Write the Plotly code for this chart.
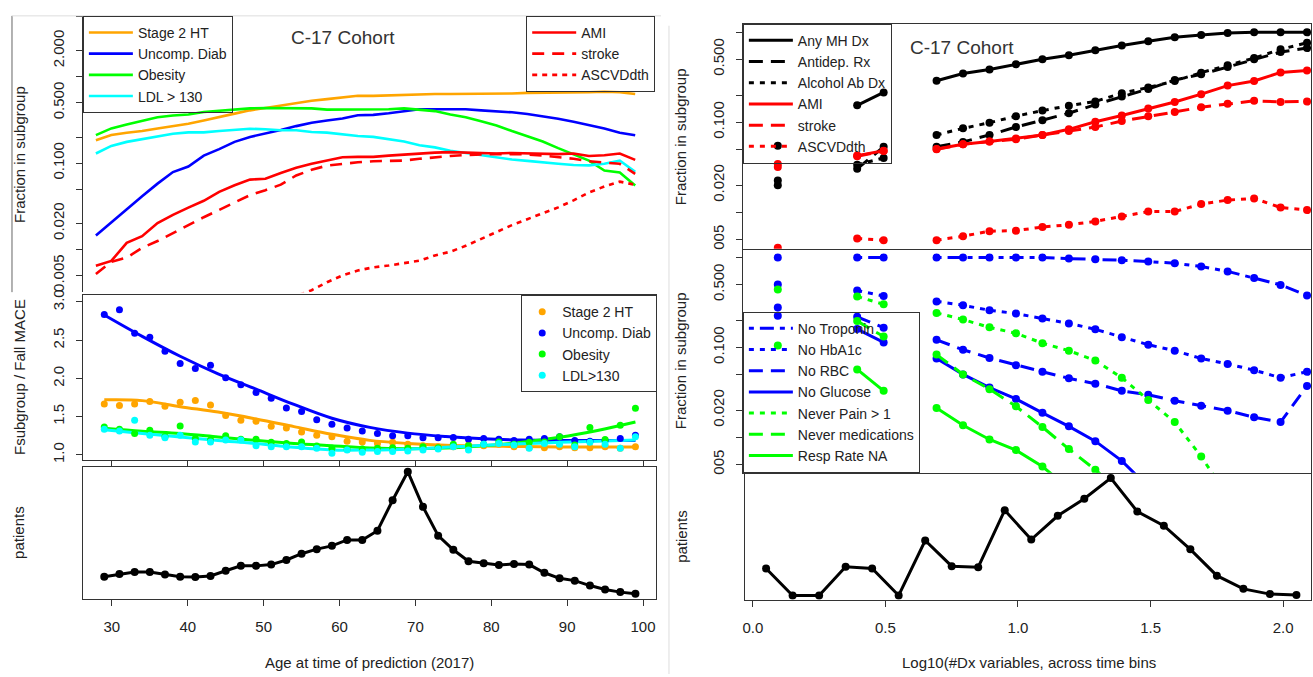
import plotly.graph_objects as go

W, H = 1313, 677

# ---------------- data: left half (age) ----------------
AGES = [29, 31, 33, 35, 37, 39, 41, 43, 45, 47, 49, 51, 53, 55, 57, 59, 61, 63,
        65, 67, 69, 71, 73, 75, 77, 79, 81, 83, 85, 87, 89, 91, 93, 95, 97, 99]

# fraction in subgroup (top-left panel)
HT2 = [0.184, 0.211, 0.225, 0.235, 0.252, 0.268, 0.286, 0.311, 0.343, 0.374, 0.408, 0.435,
       0.466, 0.496, 0.527, 0.551, 0.581, 0.601, 0.600, 0.610, 0.620, 0.620, 0.630, 0.630,
       0.630, 0.640, 0.640, 0.640, 0.650, 0.650, 0.650, 0.660, 0.660, 0.670, 0.660, 0.630]
DIAB = [0.0145, 0.0206, 0.0294, 0.0414, 0.0578, 0.0787, 0.0912, 0.122, 0.145, 0.176, 0.201, 0.219,
        0.241, 0.268, 0.293, 0.311, 0.328, 0.358, 0.362, 0.377, 0.402, 0.420, 0.420, 0.420,
        0.420, 0.408, 0.400, 0.387, 0.371, 0.349, 0.326, 0.301, 0.275, 0.252, 0.225, 0.210]
OBES = [0.211, 0.252, 0.280, 0.311, 0.340, 0.355, 0.365, 0.390, 0.405, 0.420, 0.430, 0.435,
        0.435, 0.430, 0.430, 0.416, 0.416, 0.416, 0.420, 0.420, 0.430, 0.416, 0.400, 0.365,
        0.340, 0.305, 0.273, 0.235, 0.206, 0.178, 0.149, 0.127, 0.107, 0.082, 0.078, 0.055]
LDL = [0.129, 0.158, 0.176, 0.189, 0.201, 0.219, 0.227, 0.227, 0.235, 0.241, 0.250, 0.246,
       0.240, 0.240, 0.229, 0.225, 0.215, 0.206, 0.201, 0.189, 0.178, 0.161, 0.152, 0.139,
       0.131, 0.122, 0.115, 0.110, 0.106, 0.101, 0.098, 0.095, 0.094, 0.098, 0.107, 0.079]
AMI = [0.00646, 0.00736, 0.0119, 0.0142, 0.0202, 0.0251, 0.0305, 0.0366, 0.0464, 0.0553, 0.0643, 0.0659,
       0.0766, 0.088, 0.098, 0.107, 0.117, 0.118, 0.118, 0.122, 0.126, 0.129, 0.132, 0.134,
       0.132, 0.129, 0.129, 0.131, 0.129, 0.129, 0.127, 0.129, 0.121, 0.123, 0.129, 0.109]
STROKE = [0.00518, 0.00718, 0.00803, 0.01045, 0.0125, 0.0155, 0.0188, 0.0236, 0.0287, 0.0348, 0.0425, 0.0485,
          0.0562, 0.0719, 0.0836, 0.0935, 0.098, 0.102, 0.105, 0.105, 0.107, 0.112, 0.117, 0.121,
          0.124, 0.126, 0.127, 0.127, 0.126, 0.122, 0.117, 0.112, 0.105, 0.101, 0.098, 0.075]
ASCVD = [None, None, None, None, None, None, None, None, None, None, None, None,
         0.0025, 0.0029, 0.00337, 0.00416, 0.0050, 0.0057, 0.0062, 0.0065, 0.0070, 0.0074, 0.0085, 0.0094,
         0.0110, 0.0133, 0.0159, 0.0191, 0.0224, 0.0262, 0.0307, 0.0370, 0.0456, 0.0535, 0.0610, 0.0560]

# ratio Fsubgroup / Fall MACE (middle-left panel)
HT2_R = [1.667, 1.645, 1.667, 1.697, 1.636, 1.688, 1.710, 1.654, 1.516, 1.452, 1.439, 1.374,
         1.352, 1.300, 1.258, 1.236, 1.180, 1.170, 1.150, 1.164, 1.138, 1.120, 1.107, 1.107,
         1.129, 1.120, 1.138, 1.107, 1.094, 1.094, 1.107, 1.094, 1.094, 1.107, 1.086, 1.107]
DIAB_R = [2.836, 2.900, 2.590, 2.540, 2.355, 2.196, 2.130, 2.174, 2.010, 1.916, 1.817, 1.740,
          1.615, 1.568, 1.461, 1.400, 1.353, 1.314, 1.280, 1.250, 1.250, 1.223, 1.223, 1.228,
          1.206, 1.215, 1.206, 1.190, 1.206, 1.215, 1.236, 1.190, 1.180, 1.190, 1.215, 1.258]
OBES_R = [1.365, 1.335, 1.280, 1.323, 1.236, 1.378, 1.215, 1.194, 1.250, 1.206, 1.206, 1.164,
          1.150, 1.170, 1.116, 1.086, 1.073, 1.077, 1.086, 1.094, 1.086, 1.107, 1.094, 1.138,
          1.120, 1.138, 1.170, 1.138, 1.164, 1.170, 1.236, 1.129, 1.357, 1.200, 1.387, 1.610]
LDL_R = [1.335, 1.314, 1.452, 1.258, 1.224, 1.258, 1.170, 1.170, 1.194, 1.194, 1.120, 1.107,
         1.107, 1.107, 1.086, 1.022, 1.065, 1.035, 1.043, 1.043, 1.052, 1.065, 1.077, 1.107,
         1.065, 1.138, 1.150, 1.129, 1.086, 1.150, 1.138, 1.107, 1.164, 1.138, 1.086, 1.236]

# smoothed fits
FIT_AGES = [29, 34, 39, 44, 49, 54, 59, 64, 69, 74, 79, 84, 89, 94, 99]
HT2_FIT = [1.72, 1.71, 1.63, 1.56, 1.47, 1.37, 1.27, 1.19, 1.15, 1.125, 1.115, 1.11, 1.105, 1.105, 1.105]
DIAB_FIT = [2.83, 2.55, 2.29, 2.06, 1.86, 1.66, 1.48, 1.36, 1.285, 1.24, 1.21, 1.195, 1.19, 1.19, 1.19]
OBES_FIT = [1.35, 1.31, 1.28, 1.235, 1.19, 1.15, 1.12, 1.09, 1.08, 1.09, 1.12, 1.165, 1.23, 1.32, 1.43]
LDL_FIT = [1.33, 1.28, 1.235, 1.19, 1.15, 1.10, 1.065, 1.065, 1.075, 1.10, 1.125, 1.145, 1.165, 1.18, 1.195]

# patients by age (arbitrary count units)
PAT_AGE = [340, 380, 410, 410, 375, 340, 335, 350, 430, 505, 505, 525, 595, 690, 760, 810, 900, 900,
           1040, 1505, 1940, 1405, 965, 750, 575, 545, 520, 535, 525, 400, 315, 280, 205, 145, 105, 80]

# ---------------- data: right half (log10 #Dx) ----------------
DX = [0.05, 0.15, 0.25, 0.35, 0.45, 0.55, 0.65, 0.75, 0.85, 0.95, 1.05,
      1.15, 1.25, 1.35, 1.45, 1.55, 1.65, 1.75, 1.85, 1.95, 2.05]

ANY_MH = [0.0547, None, None, 0.154, 0.214, None, 0.289, 0.348, 0.385, 0.440, 0.500,
          0.553, 0.628, 0.712, 0.793, 0.877, 0.931, 0.980, 0.995, 0.995, 0.995]
ANTIDEP = [0.0200, None, None, 0.0304, 0.0534, None, 0.0534, 0.0605, 0.0723, 0.0885, 0.1054,
           0.126, 0.157, 0.193, 0.234, 0.294, 0.340, 0.410, 0.500, 0.601, 0.665]
ALCOHOL = [0.0226, None, None, 0.0337, 0.0401, None, 0.0723, 0.0855, 0.0988, 0.1167, 0.1346,
           0.1528, 0.170, 0.210, 0.243, 0.287, 0.355, 0.430, 0.515, 0.644, 0.762]
AMI_DX = [0.0345, None, None, 0.0426, 0.0483, None, 0.0504, 0.0571, 0.0612, 0.0661, 0.0723,
          0.0834, 0.1014, 0.1189, 0.1416, 0.1678, 0.205, 0.255, 0.287, 0.357, 0.376]
STROKE_DX = [0.0318, None, None, 0.0420, 0.0480, None, 0.0500, 0.0570, 0.0610, 0.0649, 0.0723,
             0.0800, 0.0885, 0.1030, 0.1167, 0.1300, 0.1466, 0.160, 0.173, 0.168, 0.170]
ASCVD_DX = [0.00405, None, None, 0.00512, 0.00491, None, 0.00491, 0.00543, 0.00617, 0.00626, 0.00687,
            0.00728, 0.00793, 0.0090, 0.0102, 0.0102, 0.01236, 0.01367, 0.01428, 0.0113, 0.0106]

NO_TROP = [0.997, None, None, 0.997, 0.997, None, 0.997, 0.997, 0.997, 0.997, 0.997,
           0.973, 0.955, 0.931, 0.901, 0.863, 0.794, 0.700, 0.590, 0.495, 0.379]
NO_HBA1C = [0.500, None, None, 0.430, 0.372, None, 0.325, 0.294, 0.259, 0.238, 0.2095,
            0.185, 0.159, 0.130, 0.107, 0.092, 0.0752, 0.0655, 0.0558, 0.046, 0.0536]
NO_RBC = [0.277, None, None, 0.219, 0.1656, None, 0.1213, 0.0942, 0.0762, 0.0634, 0.0536,
          0.0453, 0.0395, 0.0329, 0.0297, 0.0255, 0.0225, 0.0198, 0.0167, 0.01475, 0.0373]
NO_GLUC = [0.2245, None, None, 0.160, 0.1135, None, 0.0752, 0.0501, 0.0357, 0.0267, 0.0187,
           0.01324, 0.00906, 0.00546, 0.00281, None, None, None, None, None, None]
NEVER_PAIN = [0.440, None, None, 0.369, 0.301, None, 0.242, 0.204, 0.167, 0.1435, 0.1114,
              0.092, 0.0715, 0.046, 0.026, 0.01475, 0.0061, 0.0022, None, None, None]
NEVER_MEDS = [0.105, None, None, 0.196, 0.132, None, 0.0832, 0.0501, 0.0343, 0.0221, 0.0130,
              0.0074, 0.00435, 0.0024, None, None, None, None, None, None, None]
RESP_NA = [None, None, None, 0.0569, 0.0329, None, 0.0212, 0.0136, 0.00946, 0.0072, 0.00473,
           0.0027, None, None, None, None, None, None, None, None, None]

PAT_DX = [380, 52, 52, 400, 380, 52, 720, 408, 396, 1088, 732, 1020, 1228, 1480, 1072, 900, 612, 292, 132, 68, 56]

AGE_TICKS = [30, 40, 50, 60, 70, 80, 90, 100]
DX_TICKS = [0.0, 0.5, 1.0, 1.5, 2.0]
DX_TICKTEXT = ["0.0", "0.5", "1.0", "1.5", "2.0"]

# ---------------- styling ----------------
FONT = "Liberation Sans, Arial, Helvetica, sans-serif"
TXT = "#222222"
ORANGE, BLUE, GREEN, CYAN, RED, BLACK = "#FFA500", "#0000FF", "#00FF00", "#00FFFF", "#FF0000", "#000000"
DASH_L = "12px,8px"
DOT_L = "5px,5px"
DASH_R = "14px,8px"
DOT_R = "5px,6px"
DOTDASH_R = "5px,6px,14px,6px"


def fx(p):
    return p / W


def fy(p):
    return 1 - p / H


fig = go.Figure()

# ---- top-left: fraction in subgroup ----
for name, vals, col in [("Stage 2 HT", HT2, ORANGE), ("Uncomp. Diab", DIAB, BLUE),
                        ("Obesity", OBES, GREEN), ("LDL > 130", LDL, CYAN)]:
    fig.add_trace(go.Scatter(x=AGES, y=vals, mode="lines", name=name,
                             line=dict(color=col, width=2.6), xaxis="x", yaxis="y",
                             legend="legend"))
for name, vals, dash in [("AMI", AMI, "solid"), ("stroke", STROKE, DASH_L), ("ASCVDdth", ASCVD, DOT_L)]:
    fig.add_trace(go.Scatter(x=AGES, y=vals, mode="lines", name=name,
                             line=dict(color=RED, width=2.6, dash=dash), xaxis="x", yaxis="y",
                             legend="legend2", connectgaps=False))

# ---- middle-left: ratios ----
mid_left = [("Stage 2 HT", HT2_R, HT2_FIT, ORANGE), ("Uncomp. Diab", DIAB_R, DIAB_FIT, BLUE),
            ("Obesity", OBES_R, OBES_FIT, GREEN), ("LDL>130", LDL_R, LDL_FIT, CYAN)]
for name, vals, fit, col in mid_left:
    fig.add_trace(go.Scatter(x=FIT_AGES, y=fit, mode="lines", showlegend=False,
                             line=dict(color=col, width=3, shape="spline", smoothing=1.0),
                             xaxis="x2", yaxis="y2"))
for name, vals, fit, col in mid_left:
    fig.add_trace(go.Scatter(x=AGES, y=vals, mode="markers", name=name,
                             marker=dict(color=col, size=7), xaxis="x2", yaxis="y2",
                             legend="legend3"))

# ---- bottom-left: patients ----
fig.add_trace(go.Scatter(x=AGES, y=PAT_AGE, mode="lines+markers", showlegend=False,
                         line=dict(color=BLACK, width=3), marker=dict(color=BLACK, size=8),
                         xaxis="x3", yaxis="y3"))

# ---- top-right ----
top_right = [("Any MH Dx", ANY_MH, BLACK, "solid"), ("Antidep. Rx", ANTIDEP, BLACK, DASH_R),
             ("Alcohol Ab Dx", ALCOHOL, BLACK, DOT_R), ("AMI", AMI_DX, RED, "solid"),
             ("stroke", STROKE_DX, RED, DASH_R), ("ASCVDdth", ASCVD_DX, RED, DOT_R)]
for name, vals, col, dash in top_right:
    fig.add_trace(go.Scatter(x=DX, y=vals, mode="lines+markers", showlegend=False, connectgaps=False,
                             line=dict(color=col, width=3, dash=dash), marker=dict(color=col, size=8),
                             xaxis="x4", yaxis="y4"))
for name, vals, col, dash in top_right:
    fig.add_trace(go.Scatter(x=[None], y=[None], mode="lines", name=name,
                             line=dict(color=col, width=3, dash=dash),
                             xaxis="x4", yaxis="y4", legend="legend4"))

# ---- middle-right ----
mid_right = [("No Troponin", NO_TROP, BLUE, DOTDASH_R), ("No HbA1c", NO_HBA1C, BLUE, DOT_R),
             ("No RBC", NO_RBC, BLUE, DASH_R), ("No Glucose", NO_GLUC, BLUE, "solid"),
             ("Never Pain > 1", NEVER_PAIN, GREEN, DOT_R), ("Never medications", NEVER_MEDS, GREEN, DASH_R),
             ("Resp Rate NA", RESP_NA, GREEN, "solid")]
for name, vals, col, dash in mid_right:
    fig.add_trace(go.Scatter(x=DX, y=vals, mode="lines+markers", showlegend=False, connectgaps=False,
                             line=dict(color=col, width=3, dash=dash), marker=dict(color=col, size=8),
                             xaxis="x5", yaxis="y5"))
for name, vals, col, dash in mid_right:
    fig.add_trace(go.Scatter(x=[None], y=[None], mode="lines", name=name,
                             line=dict(color=col, width=3, dash=dash),
                             xaxis="x5", yaxis="y5", legend="legend5"))

# ---- bottom-right ----
fig.add_trace(go.Scatter(x=DX, y=PAT_DX, mode="lines+markers", showlegend=False,
                         line=dict(color=BLACK, width=3), marker=dict(color=BLACK, size=8),
                         xaxis="x6", yaxis="y6"))

# ---------------- axes ----------------
tickfont = dict(family=FONT, size=15, color=TXT)
base = dict(showgrid=False, zeroline=False, linecolor="#333333", linewidth=1,
            tickcolor="#333333", ticklen=6, tickwidth=1, tickfont=tickfont)

LOG_TV = [5, 2, 1, 0.5, 0.2, 0.1, 0.05, 0.02, 0.01, 0.005]
LOG_TT = ["", "2.000", "", "0.500", "", "0.100", "", "0.020", "", "0.005"]
LOG_TV_R = [1, 0.5, 0.2, 0.1, 0.05, 0.02, 0.01, 0.005]
LOG_TT_R = ["", "0.500", "", "0.100", "", "0.020", "", "005"]

LX = [fx(81), fx(655)]
RX = [fx(742), fx(1311)]

layout_axes = dict(
    xaxis=dict(base, domain=LX, range=[27.31, 101.7], visible=False, anchor="y"),
    yaxis=dict(base, domain=[fy(290), fy(10)], type="log", range=[-2.495, 0.705], anchor="x",
               showline=True, ticks="outside", tickvals=LOG_TV, ticktext=LOG_TT, tickangle=-90,
               ticklabelstandoff=6),
    xaxis2=dict(base, domain=LX, range=[26.18, 101.71], anchor="y2", showline=True, mirror=True,
                ticks="outside", tickvals=AGE_TICKS, showticklabels=False),
    yaxis2=dict(base, domain=[fy(460), fy(293)], range=[0.935, 3.09], anchor="x2", showline=True,
                mirror=True, ticks="outside", tickvals=[1.0, 1.5, 2.0, 2.5, 3.0],
                ticktext=["1.0", "1.5", "2.0", "2.5", "3.0"], tickangle=-90, ticklabelstandoff=6),
    xaxis3=dict(base, domain=LX, range=[26.18, 101.71], anchor="y3", showline=True, mirror=True,
                ticks="outside", tickvals=AGE_TICKS, ticklabelstandoff=8),
    yaxis3=dict(base, domain=[fy(601), fy(467)], range=[0, 2015], anchor="x3", showline=True,
                mirror=True, ticks="", showticklabels=False),
    xaxis4=dict(base, domain=RX, range=[-0.082, 2.065], anchor="y4", showline=True, mirror=True,
                ticks="", showticklabels=False),
    yaxis4=dict(base, domain=[fy(246), fy(18)], type="log", range=[-2.404, 0.093], anchor="x4",
                showline=True, mirror=True, ticks="outside", tickvals=LOG_TV_R, ticktext=LOG_TT_R,
                tickangle=-90, ticklabelstandoff=6),
    xaxis5=dict(base, domain=RX, range=[-0.082, 2.065], anchor="y5", showline=True, mirror=True,
                ticks="", showticklabels=False),
    yaxis5=dict(base, domain=[fy(473), fy(247)], type="log", range=[-2.394, 0.0865], anchor="x5",
                showline=True, mirror=True, ticks="outside", tickvals=LOG_TV_R, ticktext=LOG_TT_R,
                tickangle=-90, ticklabelstandoff=6),
    xaxis6=dict(base, domain=[fx(744), fx(1311)], range=[-0.030, 2.105], anchor="y6", showline=True,
                mirror=True, ticks="outside", tickvals=DX_TICKS, ticktext=DX_TICKTEXT,
                ticklabelstandoff=8),
    yaxis6=dict(base, domain=[fy(601.7), fy(474)], range=[0, 1532], anchor="x6", showline=True,
                mirror=True, ticks="", showticklabels=False),
)

# transparent legend boxes: in the original, the data is drawn over the legend boxes
legend_base = dict(bgcolor="rgba(255,255,255,0)", bordercolor="#333333", borderwidth=1,
                   font=dict(family=FONT, size=14, color=TXT), xanchor="left", yanchor="top",
                   tracegroupgap=0, itemwidth=44)

annotations = []


def ann(text, x, y, size=15, angle=0, color=TXT):
    annotations.append(dict(text=text, x=fx(x), y=fy(y), xref="paper", yref="paper",
                            showarrow=False, textangle=angle, xanchor="center", yanchor="middle",
                            font=dict(family=FONT, size=size, color=color)))


ann("C-17 Cohort", 342, 32, size=19, color="#333333")
ann("C-17 Cohort", 961, 42, size=19, color="#333333")
ann("Fraction in subgroup", 17, 150, angle=-90)
ann("Fsubgroup / Fall MACE", 17, 376, angle=-90)
ann("patients", 17, 533, angle=-90)
ann("Fraction in subgroup", 679, 132, angle=-90)
ann("Fraction in subgroup", 679, 359, angle=-90)
ann("patients", 681, 537, angle=-90)
ann("Age at time of prediction (2017)", 368, 665)
ann("Log10(#Dx variables, across time bins", 1029, 665)

shapes = [
    dict(type="line", xref="paper", yref="paper", x0=fx(10), x1=fx(10), y0=fy(10), y1=fy(290),
         line=dict(color="#666666", width=1)),
    dict(type="line", xref="paper", yref="paper", x0=fx(10), x1=fx(660), y0=fy(10), y1=fy(10),
         line=dict(color="#dddddd", width=1)),
    dict(type="line", xref="paper", yref="paper", x0=fx(668), x1=fx(668), y0=fy(20), y1=fy(677),
         line=dict(color="#dddddd", width=1)),
]

fig.update_layout(
    width=W, height=H,
    margin=dict(l=0, r=0, t=0, b=0),
    paper_bgcolor="white", plot_bgcolor="white",
    font=dict(family=FONT, size=15, color=TXT),
    showlegend=True,
    legend=dict(legend_base, x=fx(81), y=fy(10)),
    legend2=dict(legend_base, x=fx(525), y=fy(10)),
    legend3=dict(legend_base, x=fx(520), y=fy(293), itemwidth=30),
    legend4=dict(legend_base, x=fx(742), y=fy(18)),
    legend5=dict(legend_base, x=fx(742), y=fy(473), yanchor="bottom"),
    annotations=annotations,
    shapes=shapes,
    **layout_axes,
)

fig.write_html(
    "out.html",
    config={"displayModeBar": False},
    post_script="document.body.style.margin='0';document.body.style.padding='0';"
                "document.body.style.overflow='hidden';",
)
